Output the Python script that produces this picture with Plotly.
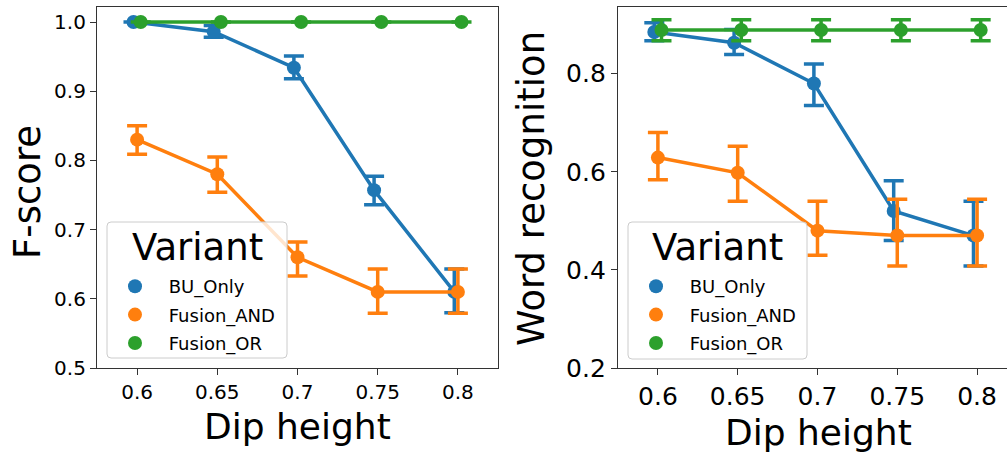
import plotly.graph_objects as go

# ---- data ----
x_labels = ["0.6", "0.65", "0.7", "0.75", "0.8"]
variants = ["BU_Only", "Fusion_AND", "Fusion_OR"]

# F-score (left panel): mean, upper CI, lower CI
f_bu = [1.0, 0.986, 0.934, 0.757, 0.61]
f_bu_hi = [1.0, 0.995, 0.951, 0.777, 0.643]
f_bu_lo = [1.0, 0.978, 0.918, 0.736, 0.58]
f_and = [0.83, 0.78, 0.66, 0.61, 0.61]
f_and_hi = [0.85, 0.805, 0.682, 0.643, 0.643]
f_and_lo = [0.809, 0.754, 0.633, 0.579, 0.579]
f_or = [1.0, 1.0, 1.0, 1.0, 1.0]
f_or_hi = [1.0, 1.0, 1.0, 1.0, 1.0]
f_or_lo = [1.0, 1.0, 1.0, 1.0, 1.0]

# Word recognition (right panel)
w_bu = [0.885, 0.863, 0.78, 0.52, 0.47]
w_bu_hi = [0.904, 0.89, 0.82, 0.582, 0.54]
w_bu_lo = [0.867, 0.839, 0.735, 0.46, 0.408]
w_and = [0.629, 0.598, 0.48, 0.47, 0.47]
w_and_hi = [0.68, 0.652, 0.54, 0.544, 0.544]
w_and_lo = [0.584, 0.54, 0.43, 0.408, 0.408]
w_or = [0.889, 0.889, 0.889, 0.889, 0.889]
w_or_hi = [0.91, 0.91, 0.91, 0.91, 0.91]
w_or_lo = [0.867, 0.867, 0.867, 0.867, 0.867]

colors = ["#1f77b4", "#ff7f0e", "#2ca02c"]
dodge = [-0.045, 0.0, 0.045]

FONT = "DejaVu Sans"
W, H = 1007, 452
mt, mb = 7, 84
ph = H - mt - mb

def px_x(x):
    return x / W

def px_y(y):
    return (H - mb - y) / ph

fig = go.Figure()

panels = [
    ("x", "y", [(f_bu, f_bu_hi, f_bu_lo), (f_and, f_and_hi, f_and_lo), (f_or, f_or_hi, f_or_lo)], "legend"),
    ("x2", "y2", [(w_bu, w_bu_hi, w_bu_lo), (w_and, w_and_hi, w_and_lo), (w_or, w_or_hi, w_or_lo)], "legend2"),
]

for xa, ya, series, leg in panels:
    for i, (m, hi, lo) in enumerate(series):
        xs = [k + dodge[i] for k in range(len(x_labels))]
        fig.add_trace(go.Scatter(
            x=xs, y=m, xaxis=xa, yaxis=ya, mode="lines+markers",
            line=dict(color=colors[i], width=3.5),
            marker=dict(color=colors[i], size=14),
            error_y=dict(type="data", symmetric=False,
                         array=[h - v for h, v in zip(hi, m)],
                         arrayminus=[v - l for v, l in zip(m, lo)],
                         color=colors[i], thickness=3.5, width=10),
            showlegend=False, name=variants[i],
        ))
    for i, name in enumerate(variants):
        fig.add_trace(go.Scatter(
            x=[None], y=[None], xaxis=xa, yaxis=ya, mode="markers",
            marker=dict(color=colors[i], size=14), name="\u00a0" + name,
            legend=leg, legendgroup=leg + name, showlegend=True,
        ))

axis_common = dict(showline=True, linecolor="#333333", linewidth=1.25,
                   ticks="outside", ticklen=6, tickwidth=1.25, tickcolor="#333333",
                   showgrid=False, zeroline=False)

legend_common = dict(
    bgcolor="rgba(0,0,0,0)", borderwidth=0,
    font=dict(family=FONT, size=18, color="#000000"),
    xanchor="left", yanchor="top", tracegroupgap=2, itemwidth=46,
)

fig.update_layout(
    width=W, height=H,
    margin=dict(l=0, r=0, t=mt, b=mb, pad=0),
    paper_bgcolor="white", plot_bgcolor="white",
    font=dict(family=FONT, color="#000000"),
    xaxis=dict(domain=[97 / W, 498 / W], range=[-0.5, 4.5], tickvals=list(range(5)),
               ticktext=x_labels, mirror=True, tickfont=dict(size=20), **axis_common),
    yaxis=dict(domain=[0, 1], range=[0.5, 1.0217], tickvals=[0.5, 0.6, 0.7, 0.8, 0.9, 1.0],
               ticktext=["0.5", "0.6", "0.7", "0.8", "0.9", "1.0"], mirror=True,
               tickfont=dict(size=20), **axis_common),
    xaxis2=dict(domain=[618 / W, 1.0], range=[-0.5, 4.375], tickvals=list(range(5)),
                ticktext=x_labels, mirror=True, anchor="y2", tickfont=dict(size=25), **axis_common),
    yaxis2=dict(domain=[0, 1], range=[0.2, 0.936], tickvals=[0.2, 0.4, 0.6, 0.8],
                ticktext=["0.2", "0.4", "0.6", "0.8"], anchor="x2", mirror=False,
                tickfont=dict(size=25), **axis_common),
    legend=dict(x=px_x(107), y=px_y(268), **legend_common),
    legend2=dict(x=px_x(628), y=px_y(268), **legend_common),
)

# legend frames (rounded, semi-transparent like matplotlib)
def rounded_box(x0, y0, x1, y1, r=4):
    X = lambda v: px_x(v)
    Y = lambda v: px_y(v)
    path = (f"M {X(x0 + r)},{Y(y0)} L {X(x1 - r)},{Y(y0)} Q {X(x1)},{Y(y0)} {X(x1)},{Y(y0 + r)} "
            f"L {X(x1)},{Y(y1 - r)} Q {X(x1)},{Y(y1)} {X(x1 - r)},{Y(y1)} "
            f"L {X(x0 + r)},{Y(y1)} Q {X(x0)},{Y(y1)} {X(x0)},{Y(y1 - r)} "
            f"L {X(x0)},{Y(y0 + r)} Q {X(x0)},{Y(y0)} {X(x0 + r)},{Y(y0)} Z")
    fig.add_shape(type="path", path=path, xref="paper", yref="paper", layer="above",
                  fillcolor="rgba(255,255,255,0.8)", line=dict(color="#cccccc", width=1))

rounded_box(107, 222, 287, 358)
rounded_box(628, 222, 807, 359)

def ann(text, xpx, ypx, angle=0, size=37):
    fig.add_annotation(text=text, xref="paper", yref="paper",
                       x=px_x(xpx), y=px_y(ypx), xanchor="center", yanchor="middle",
                       textangle=angle, showarrow=False,
                       font=dict(family=FONT, size=size, color="#000000"))

ann("Variant", 197, 247)
ann("Variant", 717, 247)
ann("Dip height", 297, 426, size=36)
ann("Dip height", 818, 432, size=36)
ann("F-score", 27, 192, -90)
ann("Word recognition", 531, 189, -90)

fig.write_html("out.html", config={"displayModeBar": False},
               post_script="document.body.style.margin='0';document.body.style.overflow='hidden';")
